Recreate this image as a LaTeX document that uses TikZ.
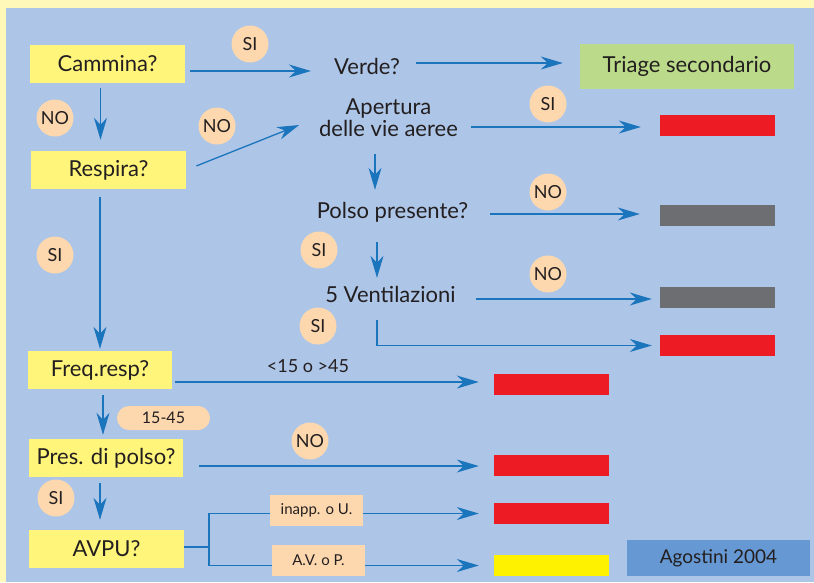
\documentclass[tikz,border=0pt]{standalone}
\usepackage{fontspec}
\setmainfont{Lato}
\usetikzlibrary{arrows.meta}

\definecolor{outeryellow}{HTML}{FFF8B8}
\definecolor{panelblue}{HTML}{ADC5E7}
\definecolor{boxyellow}{HTML}{FFF57A}
\definecolor{triagegreen}{HTML}{BBDB8A}
\definecolor{peach}{HTML}{FDD8AF}
\definecolor{codered}{HTML}{ED1C24}
\definecolor{codegray}{HTML}{6D6E71}
\definecolor{codeyellow}{HTML}{FFF200}
\definecolor{signblue}{HTML}{6699D3}
\definecolor{flowblue}{HTML}{1B75BC}
\definecolor{ink}{HTML}{231F20}

\begin{document}
\begin{tikzpicture}[x=1pt,y=-1pt]
   \tikzstyle{every node}=[font=\fontsize{22}{22}\selectfont, text=ink, inner sep=0pt]
   \tikzstyle{question}=[fill=boxyellow, minimum height=38pt]
   \tikzstyle{step text}=[minimum height=24pt]
   \tikzstyle{answer}=[circle, fill=peach, minimum size=37pt, font=\fontsize{18}{20}\selectfont]
   \tikzstyle{tag}=[fill=peach, minimum width=93pt, minimum height=31pt, font=\fontsize{15}{17}\selectfont]
   \tikzstyle{bar}=[minimum width=115pt, minimum height=21pt]
   \tikzstyle{link}=[draw=flowblue, line width=1.3pt]
   \tikzstyle{flow}=[link, -{Stealth[length=22pt,width=13pt,inset=7pt]}]

   % background
   \fill[outeryellow] (0,0) rectangle (814,582);
   \fill[panelblue] (6,8) rectangle (814,582);
   \useasboundingbox (0,0) rectangle (814,582);

   % left column
   \node[question, minimum width=155pt] (cammina) at (107.5,64) {Cammina?};
   \node[question, minimum width=155pt] (respira) at (108.5,170) {Respira?};
   \node[question, minimum width=144pt] (freq) at (100,370) {Freq.resp?};
   \node[question, minimum width=154pt] (polso) at (106,458) {Pres. di polso?};
   \node[question, minimum width=155pt] (avpu) at (106.5,549) {AVPU?};

   % middle column
   \node[step text, minimum width=62pt] (verde) at (367,66) {Verde?};
   \node[align=center, minimum width=143pt, minimum height=44pt] (apertura) at (388.5,118) {Apertura\\delle vie aeree};
   \node[step text, minimum width=151pt] (presente) at (392.5,212) {Polso presente?};
   \node[step text, minimum width=125pt] (ventil) at (390.5,294) {5 Ventilazioni};
   \node[fill=triagegreen, minimum width=214pt, minimum height=45pt] (triage) at (687,66.5) {Triage secondario};

   % colour codes
   \node[bar, fill=codered] (r1) at (717.5,125.5) {};
   \node[bar, fill=codegray] (g2) at (717.5,215.5) {};
   \node[bar, fill=codegray] (g3) at (717.5,297.5) {};
   \node[bar, fill=codered] (r4) at (717.5,345.5) {};
   \node[bar, fill=codered] (r5) at (551.5,384.5) {};
   \node[bar, fill=codered] (r6) at (551.5,465.5) {};
   \node[bar, fill=codered] (r7) at (551.5,513.5) {};
   \node[bar, fill=codeyellow] (y8) at (551.5,565.5) {};

   % connectors
   \draw[flow, shorten <=5pt, shorten >=23pt] ([yshift=-7pt]cammina.east) -- ([yshift=-7pt]cammina.east -| verde.west);
   \draw[flow, shorten <=16pt, shorten >=17pt] ([yshift=3pt]verde.east) -- ([yshift=3pt]verde.east -| triage.west);
   \draw[flow, shorten <=5pt, shorten >=11pt] ([xshift=-7pt]cammina.south) -- ([xshift=-7pt]cammina.south |- respira.north);
   \draw[flow, shorten <=11pt, shorten >=19pt] (respira.east) -- (apertura.west);
   \draw[flow, shorten <=11pt, shorten >=19pt] ([yshift=-9pt]apertura.east) -- ([yshift=-9pt]apertura.east -| r1.west);
   \draw[flow, shorten <=14pt, shorten >=10pt] ([xshift=-13.5pt]apertura.south) -- ([xshift=-13.5pt]apertura.south |- presente.north);
   \draw[flow, shorten <=22pt, shorten >=20pt] ([yshift=-2pt]presente.east) -- ([yshift=-2pt]presente.east -| g2.west);
   \draw[flow, shorten <=18pt, shorten >=4pt] ([xshift=-15.5pt]presente.south) -- ([xshift=-15.5pt]presente.south |- ventil.north);
   \draw[flow, shorten <=20pt, shorten >=8pt] ([yshift=-5pt]ventil.east) -- ([yshift=-5pt]ventil.east -| g3.west);
   \draw[flow, shorten <=14pt, shorten >=8pt] ([xshift=-13.5pt]ventil.south) |- (r4.west);
   \draw[flow, shorten <=8pt, shorten >=2pt] (respira.south -| freq.north) -- (freq.north);
   \draw[flow, shorten <=3pt, shorten >=15pt] ([yshift=-12pt]freq.east) -- ([yshift=-12pt]freq.east -| r5.west);
   \draw[flow, shorten <=6pt, shorten >=4pt] ([xshift=3pt]freq.south) -- ([xshift=3pt]freq.south |- polso.north);
   \draw[flow, shorten <=16pt, shorten >=15pt] ([yshift=-8pt]polso.east) -- ([yshift=-8pt]polso.east -| r6.west);
   \draw[flow, shorten <=6pt, shorten >=10pt] ([xshift=-6pt]polso.south) -- ([xshift=-6pt]polso.south |- avpu.north);
   \coordinate (split) at (209,547);
   \draw[link] ([yshift=2pt]avpu.east) -- (split);
   \draw[flow, shorten >=15pt] (split) |- (r7.west);
   \draw[flow, shorten >=15pt] (split) |- (y8.west);

   % answers
   \node[answer] (si1) at (250,44) {SI};
   \node[answer] (no1) at (55,118) {NO};
   \node[answer] (no2) at (217,126) {NO};
   \node[answer] (si2) at (548,104) {SI};
   \node[answer] (no3) at (548,192) {NO};
   \node[answer] (si3) at (319,250) {SI};
   \node[answer] (no4) at (548,274) {NO};
   \node[answer] (si4) at (318,326) {SI};
   \node[answer] (si5) at (55,255) {SI};
   \node[answer] (no5) at (310,441) {NO};
   \node[answer] (si6) at (56,498) {SI};
   \node[font=\fontsize{18}{20}\selectfont] (fuori) at (308,366) {<15 o >45};
   \node[fill=peach, rounded corners=12pt, minimum width=93pt, minimum height=24pt,
         font=\fontsize{16}{18}\selectfont] (norma) at (163.5,418) {15-45};
   \node[tag] (inapp) at (316.5,510.5) {inapp. o U.};
   \node[tag] (avp) at (318.5,560.5) {A.V. o P.};

   \node[fill=signblue, minimum width=183pt, minimum height=36pt,
         font=\fontsize{19}{22}\selectfont] (firma) at (718.5,558) {Agostini 2004};
\end{tikzpicture}
\end{document}
